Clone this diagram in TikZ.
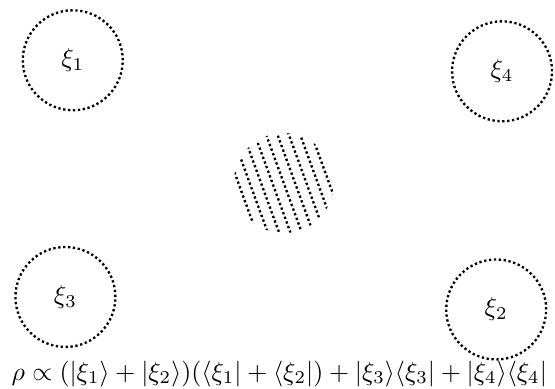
\documentclass[tikz,border=0pt]{standalone}
\usepackage{amsmath}
\usepackage{tikz}
\usetikzlibrary{positioning, calc}
\definecolor{mydark}{RGB}{0,0,0}
\tikzset{
  state/.style={circle, draw=mydark, densely dotted, line width=0.9pt,
    minimum size=1.36cm, inner sep=0pt},
  mixed/.style={circle, minimum size=1.36cm, inner sep=0pt,
    path picture={
      \foreach \k in {-5,...,5}
        \draw[mydark, densely dotted, line width=0.9pt]
          ($(path picture bounding box.center)+(20:\k*0.145)+(110:0.9)$) --
          ($(path picture bounding box.center)+(20:\k*0.145)+(-70:0.9)$);
    }}
}
\begin{document}
\begin{tikzpicture}
  \useasboundingbox (0,0) rectangle (7.55,5.28);
  % States
  \node[state] (x1) at (0.99, 4.46) {$\xi_1$};
  \node[state] (x4) at (6.83, 4.31) {$\xi_4$};
  \node[state] (x3) at (0.89, 1.24) {$\xi_3$};
  \node[state] (x2) at (6.75, 1.07) {$\xi_2$};
  % Mixture
  \node[mixed] (mix) at (3.86, 2.79) {};
  % Formula
  \node[anchor=base] (rho) at (3.80, 0.11)
    {$\rho\propto(|\xi_1\rangle+|\xi_2\rangle)(\langle\xi_1|+\langle\xi_2|)+|\xi_3\rangle\langle\xi_3|+|\xi_4\rangle\langle\xi_4|$};
\end{tikzpicture}
\end{document}
